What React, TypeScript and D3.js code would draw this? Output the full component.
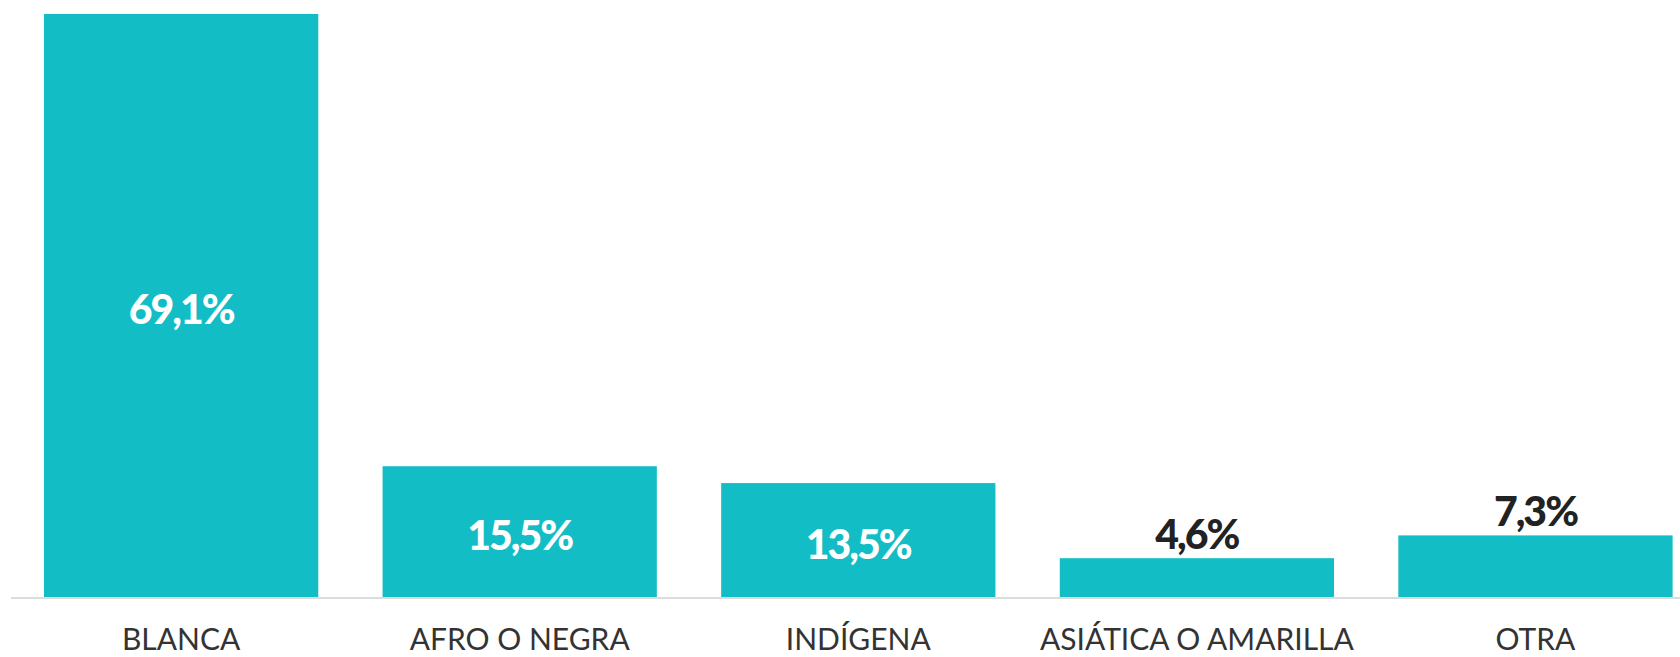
import React, { useRef, useEffect } from "react";
import * as d3 from "d3";

const categories = ["BLANCA", "AFRO O NEGRA", "INDÍGENA", "ASIÁTICA O AMARILLA", "OTRA"];
const values = [69.1, 15.5, 13.5, 4.6, 7.3];
const valueLabels = ["69,1%", "15,5%", "13,5%", "4,6%", "7,3%"];

const App = () => {
    const ref = useRef<SVGSVGElement>(null);

    useEffect(() => {
        const svgWidth = 1680;
        const svgHeight = 657;
        const baseline = 597;
        const barColor = "#12bdc6";

        const svg = d3.select(ref.current)
            .attr("width", svgWidth)
            .attr("height", svgHeight);
        svg.selectAll("*").remove();

        const data = categories.map((c, i) => ({ cat: c, value: values[i], label: valueLabels[i] }));

        const xScale = d3.scaleBand<string>()
            .domain(categories)
            .range([44, 1672.6])
            .paddingInner(0.19)
            .paddingOuter(0);

        const yScale = d3.scaleLinear()
            .domain([0, d3.max(values) as number])
            .range([baseline, 14]);

        // axis line
        svg.append("line")
            .attr("x1", 11)
            .attr("x2", svgWidth)
            .attr("y1", baseline + 1)
            .attr("y2", baseline + 1)
            .attr("stroke", "#dcdcdc")
            .attr("stroke-width", 2);

        svg.selectAll("rect.bar")
            .data(data)
            .enter()
            .append("rect")
            .attr("class", "bar")
            .attr("x", d => xScale(d.cat) as number)
            .attr("width", xScale.bandwidth())
            .attr("y", d => yScale(d.value))
            .attr("height", d => baseline - yScale(d.value))
            .attr("fill", barColor);

        // value labels: inside the bar when tall enough, above otherwise
        svg.selectAll("text.value")
            .data(data)
            .enter()
            .append("text")
            .attr("class", "value")
            .attr("x", d => (xScale(d.cat) as number) + xScale.bandwidth() / 2)
            .attr("y", d => d.value > 10
                ? (yScale(d.value) + baseline) / 2 + 3
                : yScale(d.value) - 9)
            .attr("dominant-baseline", d => d.value > 10 ? "central" : "auto")
            .attr("text-anchor", "middle")
            .attr("font-family", "Lato, sans-serif")
            .attr("font-weight", 900)
            .attr("font-size", 41)
            .attr("letter-spacing", -2)
            .attr("fill", d => d.value > 10 ? "#ffffff" : "#222222")
            .text(d => d.label);

        // category labels
        svg.selectAll("text.cat")
            .data(data)
            .enter()
            .append("text")
            .attr("class", "cat")
            .attr("x", d => (xScale(d.cat) as number) + xScale.bandwidth() / 2)
            .attr("y", 650)
            .attr("text-anchor", "middle")
            .attr("font-family", "Lato, sans-serif")
            .attr("font-weight", 400)
            .attr("font-size", 30)
            .attr("fill", "#333333")
            .text(d => d.cat);
    }, []);

    return (
        <div style={{ position: "absolute", left: 0, top: 0 }}>
            <svg ref={ref} style={{ display: "block" }}></svg>
        </div>
    );
};

export default App;
